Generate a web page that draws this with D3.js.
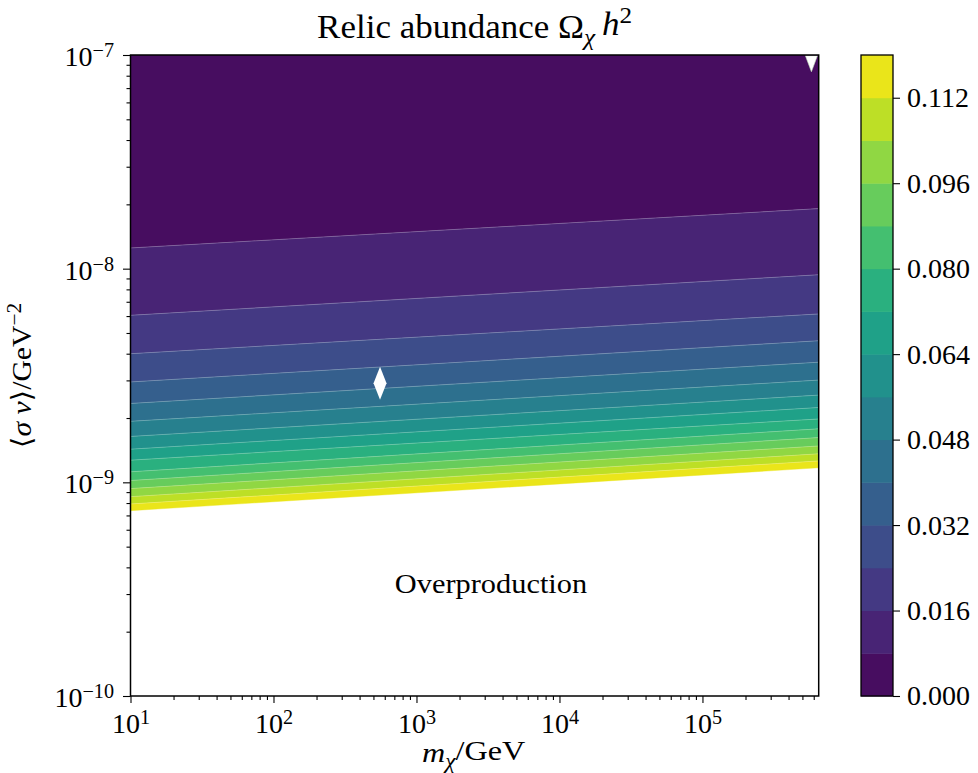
<!DOCTYPE html>
<html>
<head>
<meta charset="utf-8">
<script src="https://cdn.jsdelivr.net/npm/d3@7"></script>
<style>
  body { margin: 0; background: #fff; }
  text { font-family: "Liberation Serif", "DejaVu Serif", serif; fill: #000; }
</style>
</head>
<body>
<div id="wrapper"></div>
<script>
// contour levels of Omega h^2 (contourf levels)
const levels = [0, 0.008, 0.016, 0.024, 0.032, 0.040, 0.048, 0.056, 0.064, 0.072, 0.080, 0.088, 0.096, 0.104, 0.112, 0.120];
const massRange = [10, 6.5e5];
const sigmaRange = [1e-10, 1e-7];
// <sigma v> of each contour boundary (levels 0.008 ... 0.120) at the two ends of the mass range
const sigmaAtMin = [1.25e-8, 6.05e-9, 4.00e-9, 2.95e-9, 2.34e-9, 1.93e-9, 1.64e-9, 1.43e-9, 1.27e-9, 1.12e-9, 1.02e-9, 9.35e-10, 8.57e-10, 7.92e-10, 7.37e-10];
const sigmaAtMax = [1.91e-8, 9.37e-9, 6.14e-9, 4.60e-9, 3.65e-9, 3.01e-9, 2.56e-9, 2.24e-9, 1.98e-9, 1.78e-9, 1.62e-9, 1.48e-9, 1.36e-9, 1.26e-9, 1.17e-9];
const xTickExps = [1, 2, 3, 4, 5];
const yTickExps = [-10, -9, -8, -7];
const cbTicks = [0, 0.016, 0.032, 0.048, 0.064, 0.080, 0.096, 0.112];
const diamondPoint = {m: 556, sv: 2.91e-9};
const trianglePoint = {m: 5.78e5, sv: 9.1e-8};

const W = 978, H = 773;
const plot = {left: 130.5, right: 818.7, top: 55, bottom: 696};
const cb = {left: 861, right: 893};
const fs = 28;

const svg = d3.select("#wrapper").append("svg")
  .attr("width", W)
  .attr("height", H);

const xScale = d3.scaleLog().domain(massRange).range([plot.left, plot.right]);
const yScale = d3.scaleLog().domain(sigmaRange).range([plot.bottom, plot.top]);
const color = i => d3.interpolateViridis((i + 0.5) / (levels.length - 1));

svg.append("clipPath").attr("id", "plotclip")
  .append("rect")
  .attr("x", plot.left).attr("y", plot.top)
  .attr("width", plot.right - plot.left).attr("height", plot.bottom - plot.top);

const area = svg.append("g").attr("clip-path", "url(#plotclip)");

// filled bands between consecutive contour lines
const bands = d3.range(levels.length - 1).map(i => {
  const up = i === 0 ? [sigmaRange[1], sigmaRange[1]] : [sigmaAtMin[i - 1], sigmaAtMax[i - 1]];
  const lo = [sigmaAtMin[i], sigmaAtMax[i]];
  return [
    [massRange[0], up[0]], [massRange[1], up[1]],
    [massRange[1], lo[1]], [massRange[0], lo[0]]
  ];
});

const line = d3.line().x(d => xScale(d[0])).y(d => yScale(d[1]));

area.selectAll("path.band")
  .data(bands)
  .join("path")
  .attr("class", "band")
  .attr("d", d => line(d) + "Z")
  .attr("fill", (d, i) => color(i))
  .attr("stroke", (d, i) => color(i))
  .attr("stroke-width", 0.4);

// faint seams between the bands
area.selectAll("path.seam")
  .data(sigmaAtMin.slice(0, -1).map((s, i) => [[massRange[0], s], [massRange[1], sigmaAtMax[i]]]))
  .join("path")
  .attr("class", "seam")
  .attr("d", line)
  .attr("fill", "none")
  .attr("stroke", "#ffffff")
  .attr("stroke-opacity", 0.3)
  .attr("stroke-width", 0.8);

// markers
area.append("path")
  .attr("transform", `translate(${xScale(diamondPoint.m)},${yScale(diamondPoint.sv)})`)
  .attr("d", "M0,-16.5L6.5,0L0,16.5L-6.5,0Z")
  .attr("fill", "#fff");

area.append("path")
  .attr("transform", `translate(${xScale(trianglePoint.m)},${yScale(trianglePoint.sv)})`)
  .attr("d", "M-6,-8L6,-8L0,8Z")
  .attr("fill", "#fff")
  .attr("stroke", "#c8e6c0")
  .attr("stroke-width", 0.6);

area.append("text")
  .attr("transform", "translate(491,593) scale(1.085,1)")
  .attr("text-anchor", "middle")
  .attr("font-size", fs)
  .text("Overproduction");

// axes
const minorOf = (lo, hi) => {
  const out = [];
  for (let e = Math.floor(Math.log10(lo)); e <= Math.ceil(Math.log10(hi)); e++)
    for (let k = 2; k <= 9; k++) {
      const v = k * Math.pow(10, e);
      if (v > lo && v < hi) out.push(v);
    }
  return out;
};

function powLabel(sel, exp) {
  sel.text(null);
  sel.append("tspan").text("10");
  sel.append("tspan").attr("dy", "-0.45em").attr("font-size", "0.72em")
    .text(String(exp).replace("-", "\u2212"));
}

const xAxis = svg.append("g")
  .attr("transform", `translate(0,${plot.bottom})`)
  .call(d3.axisBottom(xScale).tickValues(xTickExps.map(e => Math.pow(10, e)))
    .tickSize(7).tickPadding(6).tickFormat(() => ""));
xAxis.selectAll(".tick text")
  .attr("font-size", fs)
  .attr("dy", "0.85em")
  .each(function(d) { powLabel(d3.select(this), Math.round(Math.log10(d))); });

svg.append("g")
  .attr("transform", `translate(0,${plot.bottom})`)
  .call(d3.axisBottom(xScale).tickValues(minorOf(massRange[0], massRange[1]))
    .tickSize(4).tickFormat(() => ""));

const yAxis = svg.append("g")
  .attr("transform", `translate(${plot.left},0)`)
  .call(d3.axisLeft(yScale).tickValues(yTickExps.map(e => Math.pow(10, e)))
    .tickSize(7.5).tickPadding(9).tickFormat(() => ""));
yAxis.selectAll(".tick text")
  .attr("font-size", fs)
  .attr("dy", "0.38em")
  .each(function(d) { powLabel(d3.select(this), Math.round(Math.log10(d))); });

svg.append("g")
  .attr("transform", `translate(${plot.left},0)`)
  .call(d3.axisLeft(yScale).tickValues(minorOf(sigmaRange[0], sigmaRange[1]))
    .tickSize(4).tickFormat(() => ""));

svg.selectAll(".domain").remove();
svg.selectAll(".tick line").attr("stroke", "#000").attr("stroke-width", 1.1);
svg.selectAll(".tick text").attr("fill", "#000").attr("font-family", null);

svg.append("rect")
  .attr("x", plot.left).attr("y", plot.top)
  .attr("width", plot.right - plot.left).attr("height", plot.bottom - plot.top)
  .attr("fill", "none").attr("stroke", "#000").attr("stroke-width", 1.5);

// titles
const title = svg.append("text")
  .attr("transform", `translate(${(plot.left + plot.right) / 2},38) scale(1.06,1)`)
  .attr("text-anchor", "middle").attr("font-size", 33);
title.append("tspan").text("Relic abundance \u03A9");
title.append("tspan").attr("font-style", "italic").attr("font-size", "0.72em").attr("dy", "0.3em").text("\u03C7");
title.append("tspan").attr("dy", "-0.3em").text("\u2009");
title.append("tspan").attr("font-style", "italic").text("h");
title.append("tspan").attr("font-size", "0.72em").attr("dy", "-0.5em").text("2");

const xl = svg.append("text")
  .attr("transform", `translate(${(plot.left + plot.right) / 2 - 1},762) scale(1.15,1)`)
  .attr("text-anchor", "middle").attr("font-size", fs);
xl.append("tspan").attr("font-style", "italic").text("m");
xl.append("tspan").attr("font-style", "italic").attr("font-size", "0.72em").attr("dy", "0.3em").text("\u03C7");
xl.append("tspan").attr("dy", "-0.3em").text("/GeV");

const yl = svg.append("text")
  .attr("transform", `translate(31,${(plot.top + plot.bottom) / 2}) rotate(-90) scale(1.06,1)`)
  .attr("text-anchor", "middle").attr("font-size", fs);
yl.append("tspan").text("\u27E8");
yl.append("tspan").attr("font-style", "italic").text("\u03C3 v");
yl.append("tspan").text("\u27E9/GeV");
yl.append("tspan").attr("font-size", "0.72em").attr("dy", "-0.5em").text("\u22122");

// colorbar
const cbScale = d3.scaleLinear().domain([levels[0], levels[levels.length - 1]]).range([plot.bottom, plot.top]);
svg.append("g").selectAll("rect")
  .data(d3.range(levels.length - 1))
  .join("rect")
  .attr("x", cb.left)
  .attr("width", cb.right - cb.left)
  .attr("y", i => cbScale(levels[i + 1]))
  .attr("height", i => cbScale(levels[i]) - cbScale(levels[i + 1]) + 0.5)
  .attr("fill", i => color(i));

svg.append("rect")
  .attr("x", cb.left).attr("y", plot.top)
  .attr("width", cb.right - cb.left).attr("height", plot.bottom - plot.top)
  .attr("fill", "none").attr("stroke", "#000").attr("stroke-width", 1.3);

const cbAxis = svg.append("g")
  .attr("transform", `translate(${cb.right},0)`)
  .call(d3.axisRight(cbScale).tickValues(cbTicks).tickSize(7).tickPadding(7).tickFormat(d3.format(".3f")));
cbAxis.select(".domain").remove();
cbAxis.selectAll(".tick line").attr("stroke", "#000").attr("stroke-width", 1.1);
cbAxis.selectAll(".tick text").attr("font-size", fs).attr("font-family", null).attr("fill", "#000");
</script>
</body>
</html>
